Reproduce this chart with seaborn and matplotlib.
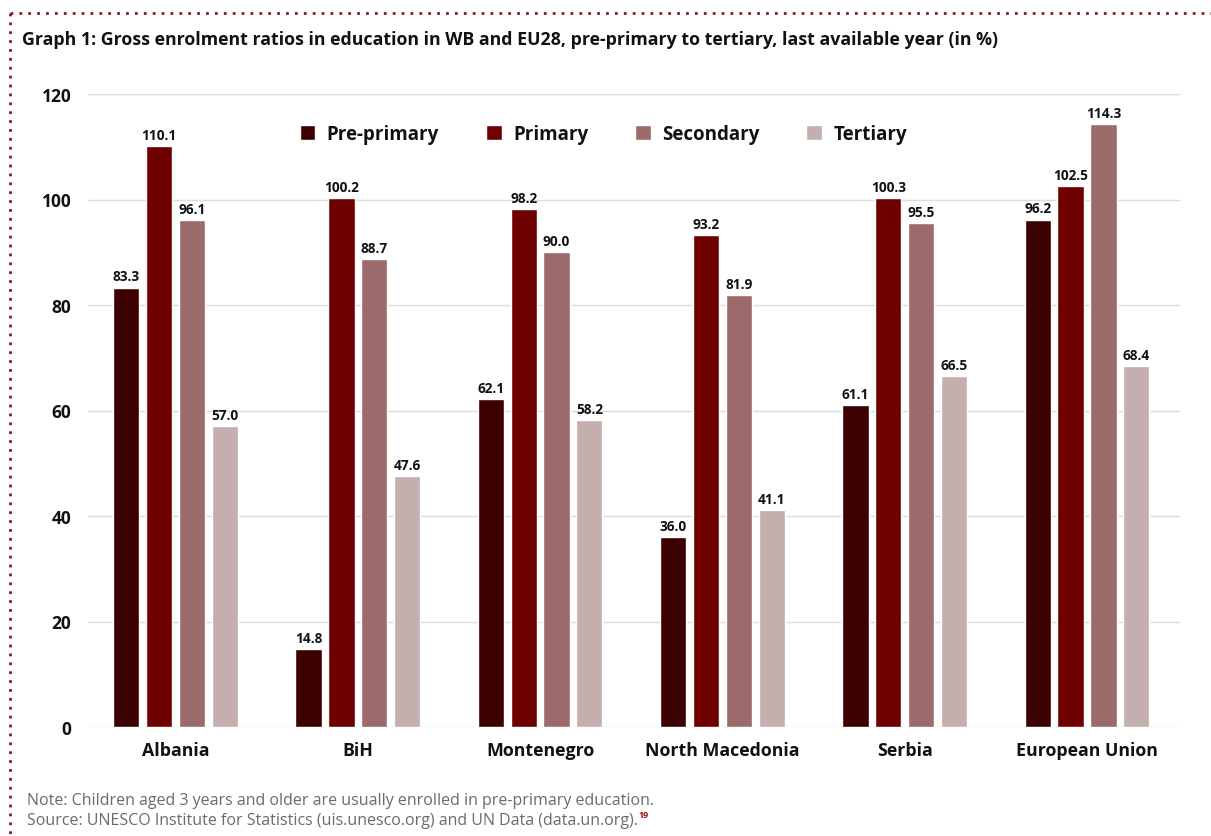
import numpy as np
import pandas as pd
import matplotlib
matplotlib.use("Agg")
import matplotlib.pyplot as plt
from matplotlib.lines import Line2D
import seaborn as sns

countries = ["Albania", "BiH", "Montenegro", "North Macedonia", "Serbia", "European Union"]
levels = ["Pre-primary", "Primary", "Secondary", "Tertiary"]
pre_primary = [83.3, 14.8, 62.1, 36.0, 61.1, 96.2]
primary = [110.1, 100.2, 98.2, 93.2, 100.3, 102.5]
secondary = [96.1, 88.7, 90.0, 81.9, 95.5, 114.3]
tertiary = [57.0, 47.6, 58.2, 41.1, 66.5, 68.4]
colors = ["#3D0000", "#6E0000", "#9C6A6A", "#C4AEAE"]

rows = []
for lvl, vals in zip(levels, [pre_primary, primary, secondary, tertiary]):
    for c, v in zip(countries, vals):
        rows.append({"Country": c, "Level": lvl, "Value": v})
df = pd.DataFrame(rows)

sns.set_theme(style="white")
plt.rcParams['font.family'] = ['Open Sans', 'DejaVu Sans']

fig = plt.figure(figsize=(12.11, 8.37), dpi=100)
ax = fig.add_axes([88/1211, 1-728/837, (1180-88)/1211, (728-95)/837])

sns.barplot(data=df, x="Country", y="Value", hue="Level", hue_order=levels,
            order=countries, palette=colors, width=0.72, gap=0.2,
            saturation=1, ax=ax, errorbar=None)

for cont in ax.containers:
    ax.bar_label(cont, fmt="%.1f", padding=3, fontsize=9.8, fontweight="bold", color="#111111")

ax.set_ylim(0, 120)
ax.set_xlim(-0.48, 5.51)
ax.set_yticks(np.arange(0, 121, 20))
ax.yaxis.grid(True, color="#DDDDDD", linewidth=1)
ax.set_axisbelow(True)
for s in ax.spines.values():
    s.set_visible(False)
ax.set_xlabel("")
ax.set_ylabel("")
ax.tick_params(axis="y", length=0, pad=12, labelsize=12.5)
ax.tick_params(axis="x", length=0, pad=10, labelsize=12.8)
for t in ax.get_xticklabels() + ax.get_yticklabels():
    t.set_fontweight("bold")
    t.set_color("#111111")

leg = ax.legend(loc="center", bbox_to_anchor=(0.472, 0.937), ncol=4, frameon=False,
                handlelength=0.85, handleheight=0.85, columnspacing=2.5, handletextpad=0.6,
                prop={"weight": "bold", "size": 13.5})
for t in leg.get_texts():
    t.set_color("#111111")

fig.text(22/1211, 1-40/837, "Graph 1: Gross enrolment ratios in education in WB and EU28, pre-primary to tertiary, last available year (in %)",
         fontsize=12.75, fontweight="bold", color="#111111", va="center", ha="left")

fig.text(27/1211, 1-801/837, "Note: Children aged 3 years and older are usually enrolled in pre-primary education.",
         fontsize=11.5, color="#6B6B6B", va="center", ha="left")
src = fig.text(27/1211, 1-821/837, "Source: UNESCO Institute for Statistics (uis.unesco.org) and UN Data (data.un.org).",
               fontsize=11.5, color="#6B6B6B", va="center", ha="left")
fig.canvas.draw()
bb = src.get_window_extent()
fig.text((bb.x1 + 1)/1211, 1-816/837, "19", fontsize=6.5, fontweight="bold", color="#A01010", va="center", ha="left")

border_color = "#8B1A1A"
fig.add_artist(Line2D([10/1211, 1.0], [1-14/837, 1-14/837], transform=fig.transFigure,
                      color=border_color, linestyle=(0, (1, 2.2)), linewidth=2))
fig.add_artist(Line2D([10/1211, 10/1211], [1-14/837, 0.0], transform=fig.transFigure,
                      color=border_color, linestyle=(0, (1, 2.2)), linewidth=2))

fig.savefig("out.png", dpi=100)
